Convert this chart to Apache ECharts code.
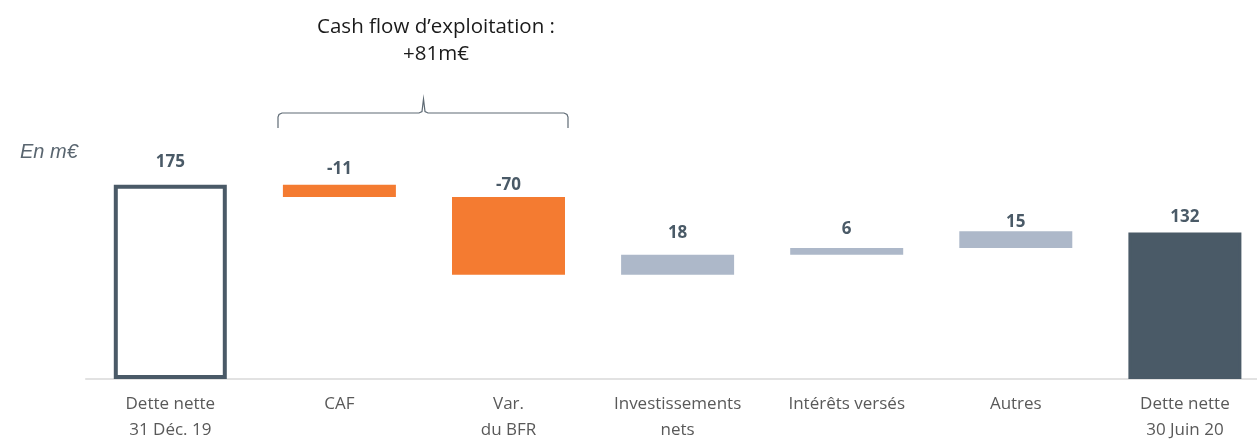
<!DOCTYPE html>
<html>
<head>
<meta charset="utf-8">
<script src="https://cdn.jsdelivr.net/npm/echarts@6/dist/echarts.min.js"></script>
<style>
html,body{margin:0;padding:0;background:#fff;}
#chart{width:1257px;height:439px;}
</style>
</head>
<body>
<div id="chart"></div>
<script>
// ---- data ----
var categories = ['Dette nette\n31 Déc. 19', 'CAF', 'Var.\ndu BFR', 'Investissements\nnets', 'Intérêts versés', 'Autres', 'Dette nette\n30 Juin 20'];
var startValue = 175;
var deltas = [-11, -70, 18, 6, 15];
var endValue = 132;
var valueLabels = ['175', '-11', '-70', '18', '6', '15', '132'];
var titleLines = ['Cash flow d\u2019exploitation :', '+81m\u20ac'];
var unitLabel = 'En m\u20ac';

// ---- build waterfall ----
var baseData = [0];
var barData = [startValue];
var running = startValue;
deltas.forEach(function (d) {
  if (d < 0) { baseData.push(running + d); barData.push(-d); }
  else { baseData.push(running); barData.push(d); }
  running += d;
});
baseData.push(0);
barData.push(endValue);

// ---- styles ----
var DARK = '#4a5a67', ORANGE = '#f47b31', GREY = '#adb8c9';
var itemStyles = [
  { color: '#ffffff', borderColor: DARK, borderWidth: 4 },
  { color: ORANGE }, { color: ORANGE },
  { color: GREY }, { color: GREY }, { color: GREY },
  { color: DARK, borderColor: DARK, borderWidth: 3 }
];
var labelGaps = [14, 7, 3, 13, 10, 1, 7];

var chart = echarts.init(document.getElementById('chart'), null, { renderer: 'canvas' });
chart.setOption({
  animation: false,
  grid: { left: 85.75, width: 1183.7, top: 157, height: 222, outerBoundsMode: 'none', containLabel: false },
  xAxis: {
    type: 'category',
    data: categories,
    axisLine: { show: true, lineStyle: { color: '#d9d9d9', width: 1.5 } },
    axisTick: { show: false },
    axisLabel: {
      interval: 0, margin: 12,
      color: '#595959', fontFamily: 'Open Sans', fontSize: 17, lineHeight: 26
    }
  },
  yAxis: { type: 'value', min: 0, max: 200, show: false, splitLine: { show: false } },
  series: [
    {
      type: 'bar', stack: 'wf', data: baseData, barWidth: 113,
      itemStyle: { color: 'transparent' }, silent: true
    },
    {
      type: 'bar', stack: 'wf', barWidth: 113,
      data: barData.map(function (v, i) {
        return { value: v, itemStyle: itemStyles[i], label: { distance: labelGaps[i] } };
      }),
      label: {
        show: true, position: 'top',
        color: DARK, fontFamily: 'Open Sans', fontWeight: 'bold', fontSize: 17,
        formatter: function (p) { return valueLabels[p.dataIndex]; }
      }
    }
  ],
  graphic: [
    { type: 'text', x: 20, y: 152, style: { text: unitLabel, fill: '#5a6670', font: 'italic 20px "Liberation Sans"', verticalAlign: 'middle' } },
    { type: 'text', x: 436, y: 27, style: { text: titleLines[0], fill: '#1a1a1a', font: '20.5px "Open Sans"', align: 'center', verticalAlign: 'middle' } },
    { type: 'text', x: 436, y: 54, style: { text: titleLines[1], fill: '#1a1a1a', font: '20.5px "Open Sans"', align: 'center', verticalAlign: 'middle' } },
    {
      type: 'polyline',
      shape: { points: [[278,128],[278,117],[279,114.5],[282,113],[419,113],[422,111.5],[423.5,99],[425,111.5],[428,113],[564,113],[567,114.5],[568,117],[568,128]] },
      style: { fill: null, stroke: '#5f6b75', lineWidth: 1.2 }
    }
  ]
});
</script>
</body>
</html>
